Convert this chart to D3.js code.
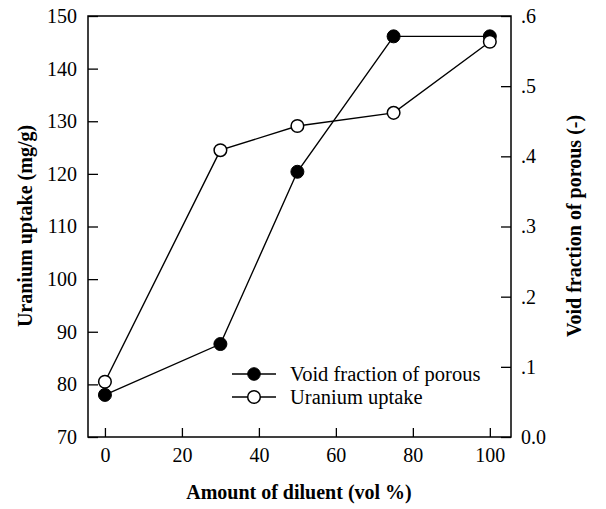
<!DOCTYPE html>
<html><head><meta charset="utf-8">
<script src="https://cdn.jsdelivr.net/npm/d3@7"></script>
<style>body{margin:0;background:#fff;} svg{display:block;}</style>
</head><body>
<svg id="c" width="606" height="509"></svg>
<script>
const diluent = [0, 30, 50, 75, 100];
const voidFraction = [0.060, 0.1325, 0.378, 0.571, 0.571];
const uraniumUptake = [80.5, 124.5, 129.1, 131.6, 145.1];
const xTicks = [0, 20, 40, 60, 80, 100];
const yLeftTicks = [70, 80, 90, 100, 110, 120, 130, 140, 150];
const yRightTicks = [0, 0.1, 0.2, 0.3, 0.4, 0.5, 0.6];
const yRightLabels = ["0.0", ".1", ".2", ".3", ".4", ".5", ".6"];
const seriesNames = ["Void fraction of porous", "Uranium uptake"];

const svg = d3.select("#c");
const L = 88, R = 511, T = 16, B = 437;
const font = "'Liberation Serif','Times New Roman',serif";
const x = d3.scaleLinear().domain([-4.4, 105.5]).range([L, R]);
const yL = d3.scaleLinear().domain([70, 150]).range([B, T]);
const yR = d3.scaleLinear().domain([0, 0.6]).range([B, T]);

function styleAxis(g) {
  g.select(".domain").remove();
  g.selectAll(".tick line").attr("stroke", "#000").attr("stroke-width", 1.3);
  g.selectAll(".tick text").attr("font-family", font).attr("font-size", 20).attr("fill", "#000");
}

svg.append("g").attr("transform", `translate(0,${B})`)
  .call(d3.axisBottom(x).tickValues(xTicks).tickSizeInner(-9).tickSizeOuter(0).tickPadding(11))
  .call(styleAxis);
svg.append("g").attr("transform", `translate(${L},0)`)
  .call(d3.axisLeft(yL).tickValues(yLeftTicks).tickSizeInner(-10).tickSizeOuter(0).tickPadding(11))
  .call(styleAxis);
svg.append("g").attr("transform", `translate(${R},0)`)
  .call(d3.axisRight(yR).tickValues(yRightTicks).tickFormat((d, i) => yRightLabels[i]).tickSizeInner(-10).tickSizeOuter(0).tickPadding(10))
  .call(styleAxis);

svg.append("rect").attr("x", L).attr("y", T).attr("width", R - L).attr("height", B - T)
  .attr("fill", "none").attr("stroke", "#000").attr("stroke-width", 1.5);

const voidData = diluent.map((d, i) => [d, voidFraction[i]]);
const urData = diluent.map((d, i) => [d, uraniumUptake[i]]);
svg.append("path").datum(voidData)
  .attr("d", d3.line().x(d => x(d[0])).y(d => yR(d[1])))
  .attr("fill", "none").attr("stroke", "#000").attr("stroke-width", 1.4);
svg.append("path").datum(urData)
  .attr("d", d3.line().x(d => x(d[0])).y(d => yL(d[1])))
  .attr("fill", "none").attr("stroke", "#000").attr("stroke-width", 1.4);
svg.selectAll(".vf").data(voidData).enter().append("circle")
  .attr("cx", d => x(d[0])).attr("cy", d => yR(d[1])).attr("r", 6.5)
  .attr("fill", "#000").attr("stroke", "#000").attr("stroke-width", 1);
svg.selectAll(".ur").data(urData).enter().append("circle")
  .attr("cx", d => x(d[0])).attr("cy", d => yL(d[1])).attr("r", 6.3)
  .attr("fill", "#fff").attr("stroke", "#000").attr("stroke-width", 1.5);

const leg = svg.append("g");
seriesNames.forEach((name, i) => {
  const y0 = 374 + i * 23;
  leg.append("line").attr("x1", 232).attr("x2", 276).attr("y1", y0).attr("y2", y0)
    .attr("stroke", "#000").attr("stroke-width", 1.4);
  leg.append("circle").attr("cx", 254).attr("cy", y0).attr("r", 6.3)
    .attr("fill", i === 0 ? "#000" : "#fff").attr("stroke", "#000").attr("stroke-width", i === 0 ? 1 : 1.5);
  leg.append("text").attr("x", 290).attr("y", y0 + 6.5).text(name)
    .attr("font-family", font).attr("font-size", 20.5).attr("fill", "#000");
});

svg.append("text").attr("x", 299).attr("y", 499).attr("text-anchor", "middle")
  .attr("font-family", font).attr("font-weight", "bold").attr("font-size", 20)
  .text("Amount of diluent (vol %)");
svg.append("text").attr("transform", "translate(32,226) rotate(-90)").attr("text-anchor", "middle")
  .attr("font-family", font).attr("font-weight", "bold").attr("font-size", 20)
  .text("Uranium uptake (mg/g)");
svg.append("text").attr("transform", "translate(581,226) rotate(-90)").attr("text-anchor", "middle")
  .attr("font-family", font).attr("font-weight", "bold").attr("font-size", 20)
  .text("Void fraction of porous (-)");
</script>
</body></html>
